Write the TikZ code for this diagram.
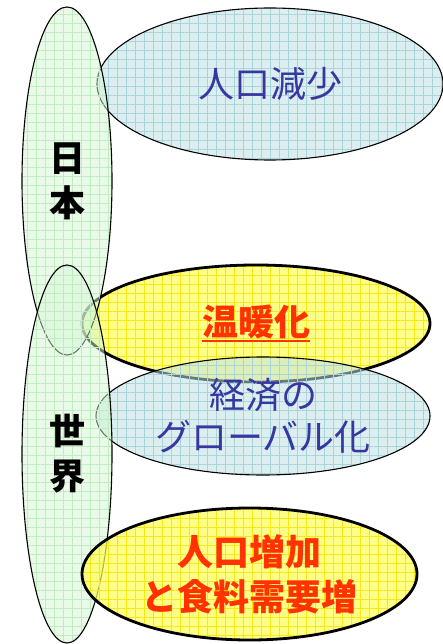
\documentclass[tikz,border=0pt]{standalone}
\usepackage{fontspec}
\newfontfamily\jp{Noto Sans CJK JP}
\usetikzlibrary{shapes.geometric,patterns.meta}
\definecolor{lgreen}{RGB}{212,246,212}
\definecolor{ggreen}{RGB}{192,236,192}
\definecolor{lblue}{RGB}{192,224,228}
\definecolor{gblue}{RGB}{168,212,218}
\definecolor{lyellow}{RGB}{255,255,85}
\definecolor{gyellow}{RGB}{245,232,20}
\definecolor{txtblue}{RGB}{55,55,160}
\definecolor{txtred}{RGB}{255,50,0}
\newcommand\redline[1]{\setbox0\hbox{#1}\rlap{\rule[-7pt]{\wd0}{2.4pt}}\box0}
\tikzset{gridfill/.style={postaction={pattern={Lines[distance=9pt,angle=0,line width=.45pt]},pattern color=#1},
    postaction={pattern={Lines[distance=9pt,angle=90,line width=.45pt]},pattern color=#1}},
  rim/.style={postaction={draw=black,line width=#1}}}
\begin{document}
\begin{tikzpicture}[x=1pt,y=-1pt]
  \tikzstyle{blob}=[ellipse,inner sep=0pt,text opacity=1,
    font=\jp\fontsize{36}{44}\selectfont,align=center]
  \tikzstyle{area}=[blob,fill=lgreen,fill opacity=0.5,gridfill=ggreen,rim=1.1pt,
    font=\jp\bfseries\fontsize{36}{45}\selectfont]
  \tikzstyle{trend}=[blob,fill=lblue,fill opacity=0.55,gridfill=gblue,rim=1.1pt,text=txtblue]
  \tikzstyle{issue}=[blob,fill=lyellow,fill opacity=0.7,gridfill=gyellow,rim=2.8pt,text=txtred,
    font=\jp\bfseries\fontsize{36}{45}\selectfont]
  \useasboundingbox (0,0) rectangle (443,644);
  % bottom layer first, the green ones lie over it
  \node[issue,minimum width=348pt,minimum height=117pt](warming) at (256,323.5){\redline{温暖化}};
  \node[trend,minimum width=346pt,minimum height=152pt](decline) at (270,84){人口減少};
  \node[trend,minimum width=334pt,minimum height=118pt,
    font=\jp\fontsize{36}{42}\selectfont](global) at (263,416){経済の\\グローバル化};
  \node[area,minimum width=90pt,minimum height=348pt](japan) at (67,181){日\\本};
  \node[area,minimum width=90pt,minimum height=378pt](world) at (67,454){世\\界};
  \node[issue,minimum width=335pt,minimum height=132pt](growth) at (249.5,574){人口増加\\と食料需要増};
\end{tikzpicture}
\end{document}
